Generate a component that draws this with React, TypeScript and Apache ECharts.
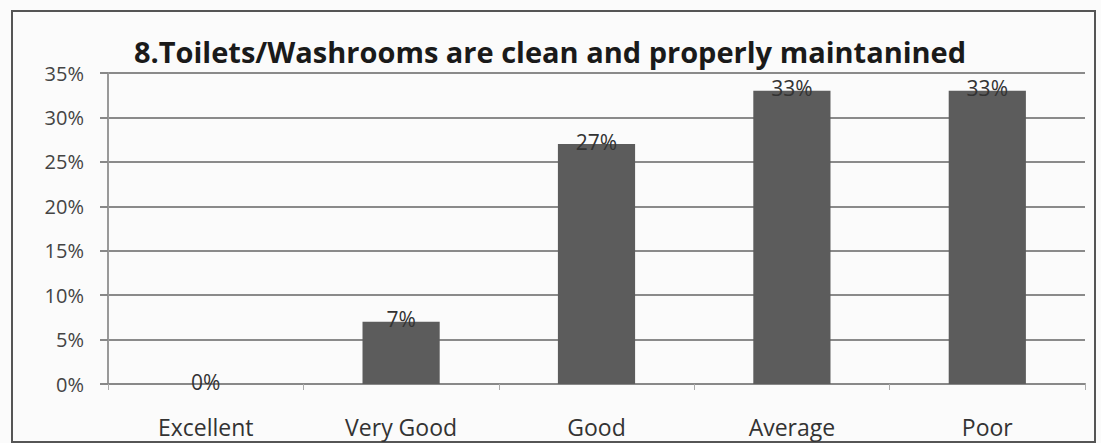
import React, { useEffect, useRef } from "react";
import * as echarts from "echarts";

const categories = ["Excellent", "Very Good", "Good", "Average", "Poor"];
const values = [0, 7, 27, 33, 33];
const yTicks = [0, 5, 10, 15, 20, 25, 30, 35];
const titleText = "8.Toilets/Washrooms are clean and properly maintanined";

export default function App() {
  const ref = useRef<HTMLDivElement>(null);
  useEffect(() => {
    const chart = echarts.init(ref.current!, null, { renderer: "svg" });
    chart.setOption({
      animation: false,
      backgroundColor: "#fbfbfb",
      title: {
        text: titleText,
        left: 545,
        textAlign: "center",
        top: 32,
        textStyle: { fontFamily: "Open Sans", fontWeight: "bold", fontSize: 29, color: "#1a1a1a" },
      },
      graphic: [
        {
          type: "rect",
          shape: { x: 12, y: 11, width: 1083, height: 431 },
          style: { fill: "none", stroke: "#555", lineWidth: 2 },
          silent: true,
        },
      ],
      grid: { left: 108, right: 16, top: 73, bottom: 59 },
      xAxis: {
        type: "category",
        data: categories,
        axisLine: { show: true, lineStyle: { color: "#888", width: 2 } },
        axisTick: { show: true, length: 6, lineStyle: { color: "#aaa", width: 1 } },
        axisLabel: { fontFamily: "Open Sans", fontSize: 23, color: "#333", margin: 31 },
      },
      yAxis: {
        type: "value",
        min: 0,
        max: 35,
        interval: 5,
        axisLine: { show: true, lineStyle: { color: "#999", width: 2 } },
        axisTick: { show: true, length: 8, lineStyle: { color: "#888", width: 2 } },
        axisLabel: {
          fontFamily: "Open Sans",
          fontSize: 20,
          color: "#444",
          margin: 24,
          formatter: (v: number) => (yTicks.includes(v) ? v + "%" : ""),
        },
        splitLine: { show: true, lineStyle: { color: "#8a8a8a", width: 2 } },
      },
      series: [
        {
          type: "bar",
          data: values,
          barWidth: "39.5%",
          itemStyle: { color: "#5c5c5c" },
          label: {
            show: true,
            position: "top",
            distance: -8,
            formatter: (p: any) => p.value + "%",
            fontFamily: "Open Sans",
            fontSize: 21,
            color: "#333",
          },
        },
      ],
    });
    return () => chart.dispose();
  }, []);
  return (
    <div
      ref={ref}
      style={{ position: "fixed", left: 0, top: 0, width: 1101, height: 443 }}
    />
  );
}
